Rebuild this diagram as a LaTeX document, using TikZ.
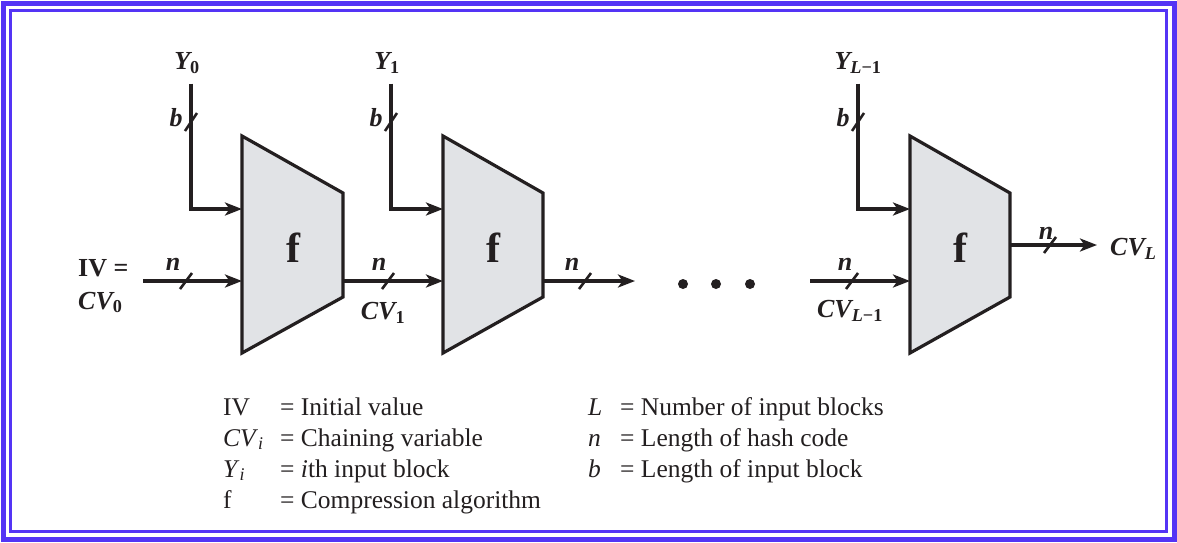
\documentclass[tikz,border=0pt]{standalone}
\usepackage{fontspec}
\setmainfont{Liberation Serif}
\usetikzlibrary{arrows.meta}
\definecolor{frameblue}{RGB}{84,52,245}
\definecolor{boxgray}{RGB}{225,227,230}
\definecolor{ink}{RGB}{35,31,32}

\begin{document}
\begin{tikzpicture}[x=1pt, y=-1pt,
    every node/.style={text=ink},
    lbl/.style={font=\fontsize{26}{33}\selectfont\bfseries\itshape, inner sep=0pt},
    fname/.style={font=\fontsize{42}{46}\selectfont\bfseries, inner sep=0pt},
    leg/.style={font=\fontsize{25.5}{31}\selectfont, anchor=base west, inner sep=0pt},
    blk/.style={draw=ink, fill=boxgray, line width=3.2pt, line join=miter},
    wire/.style={draw=ink, line width=3.2pt},
    arr/.style={wire, -{Stealth[length=17pt, width=13pt, inset=4.5pt]}},
    slash/.style={draw=ink, line width=2.6pt}
]
\useasboundingbox (0,0) rectangle (1177,542);
% frame
\draw[frameblue, line width=5pt] (3,3) rectangle (1174,539);
\draw[frameblue, line width=3pt] (10.5,10.5) rectangle (1166,531);

% Block 1
\draw[blk] (242,136) -- (343,193) -- (343,297) -- (242,353) -- cycle;
\node[fname] (f1) at (293,248) {f};
\coordinate (f1top) at (242,209);
\coordinate (f1in) at (242,281);
\coordinate (f1out) at (343,281);
% Block 2
\draw[blk] (443,136) -- (543,193) -- (543,297) -- (443,353) -- cycle;
\node[fname] (f2) at (493,248) {f};
\coordinate (f2top) at (443,209);
\coordinate (f2in) at (443,281);
\coordinate (f2out) at (543,281);
% Block L
\draw[blk] (910,136) -- (1010,193) -- (1010,297) -- (910,353) -- cycle;
\node[fname] (f3) at (960,248) {f};
\coordinate (f3top) at (910,209);
\coordinate (f3in) at (910,281);
\coordinate (f3out) at (1010,245);

% Message blocks
\node[lbl] (Y0) at (187,63) {Y\textsubscript{\upshape 0}};
\draw[arr] ([xshift=4pt,yshift=-10pt]Y0.south) |- (f1top);
\draw[slash] (191,122) +(-6,9) -- +(6,-9);
\node[lbl] (b1) at (176,118) {b};
\node[lbl] (Y1) at (387,63) {Y\textsubscript{\upshape 1}};
\draw[arr] ([xshift=4pt,yshift=-10pt]Y1.south) |- (f2top);
\draw[slash] (391,122) +(-6,9) -- +(6,-9);
\node[lbl] (b2) at (376,118) {b};
\node[lbl] (Y3) at (858,63) {Y\textsubscript{L\upshape −1}};
\draw[arr] ([xshift=0pt,yshift=-10pt]Y3.south) |- (f3top);
\draw[slash] (858,122) +(-6,9) -- +(6,-9);
\node[lbl] (b3) at (843,118) {b};

% Chaining values
\node[lbl, align=left, anchor=west] (iv) at (78,286) {{\upshape IV =}\\CV\textsubscript{\upshape 0}};
\coordinate (s0) at (143,281);
\draw[arr] (s0) -- (f1in);
\draw[slash] (186,281) +(-6,8) -- +(6,-8);
\node[lbl] (n1) at (173,264) {n};

\draw[arr] (f1out) -- (f2in);
\draw[slash] (388,281) +(-6,8) -- +(6,-8);
\node[lbl] (n2) at (379,264) {n};
\node[lbl] (cv1) at (383,313) {CV\textsubscript{\upshape 1}};

\coordinate (e2) at (635,281);
\draw[arr] (f2out) -- (e2);
\draw[slash] (585,281) +(-6,8) -- +(6,-8);
\node[lbl] (n3) at (572,264) {n};

% dots
\fill[ink] (683,284) circle (5pt);
\fill[ink] (716,284) circle (5pt);
\fill[ink] (750,284) circle (5pt);

\coordinate (s3) at (810,281);
\draw[arr] (s3) -- (f3in);
\draw[slash] (852,281) +(-6,8) -- +(6,-8);
\node[lbl] (n4) at (845,264) {n};
\node[lbl] (cvL1) at (850,311) {CV\textsubscript{L\upshape −1}};

\coordinate (e3) at (1097,245);
\draw[arr] (f3out) -- (e3);
\draw[slash] (1050,245) +(-6,8) -- +(6,-8);
\node[lbl] (n5) at (1046,233) {n};
\node[lbl, anchor=west] (cvL) at (1110,249) {CV\textsubscript{L}};

% Legend
\node[leg] (lg1) at (223,415) {\makebox[57pt][l]{IV}= Initial value};
\node[leg] (lg2) at (223,446) {\makebox[57pt][l]{\textit{CV}\textsubscript{\textit{i}}}= Chaining variable};
\node[leg] (lg3) at (223,477) {\makebox[57pt][l]{\textit{Y}\textsubscript{\textit{i}}}= \textit{i}th input block};
\node[leg] (lg4) at (223,508) {\makebox[57pt][l]{f}= Compression algorithm};
\node[leg] (lg5) at (588,415) {\makebox[32pt][l]{\textit{L}}= Number of input blocks};
\node[leg] (lg6) at (588,446) {\makebox[32pt][l]{\textit{n}}= Length of hash code};
\node[leg] (lg7) at (588,477) {\makebox[32pt][l]{\textit{b}}= Length of input block};
\end{tikzpicture}
\end{document}
